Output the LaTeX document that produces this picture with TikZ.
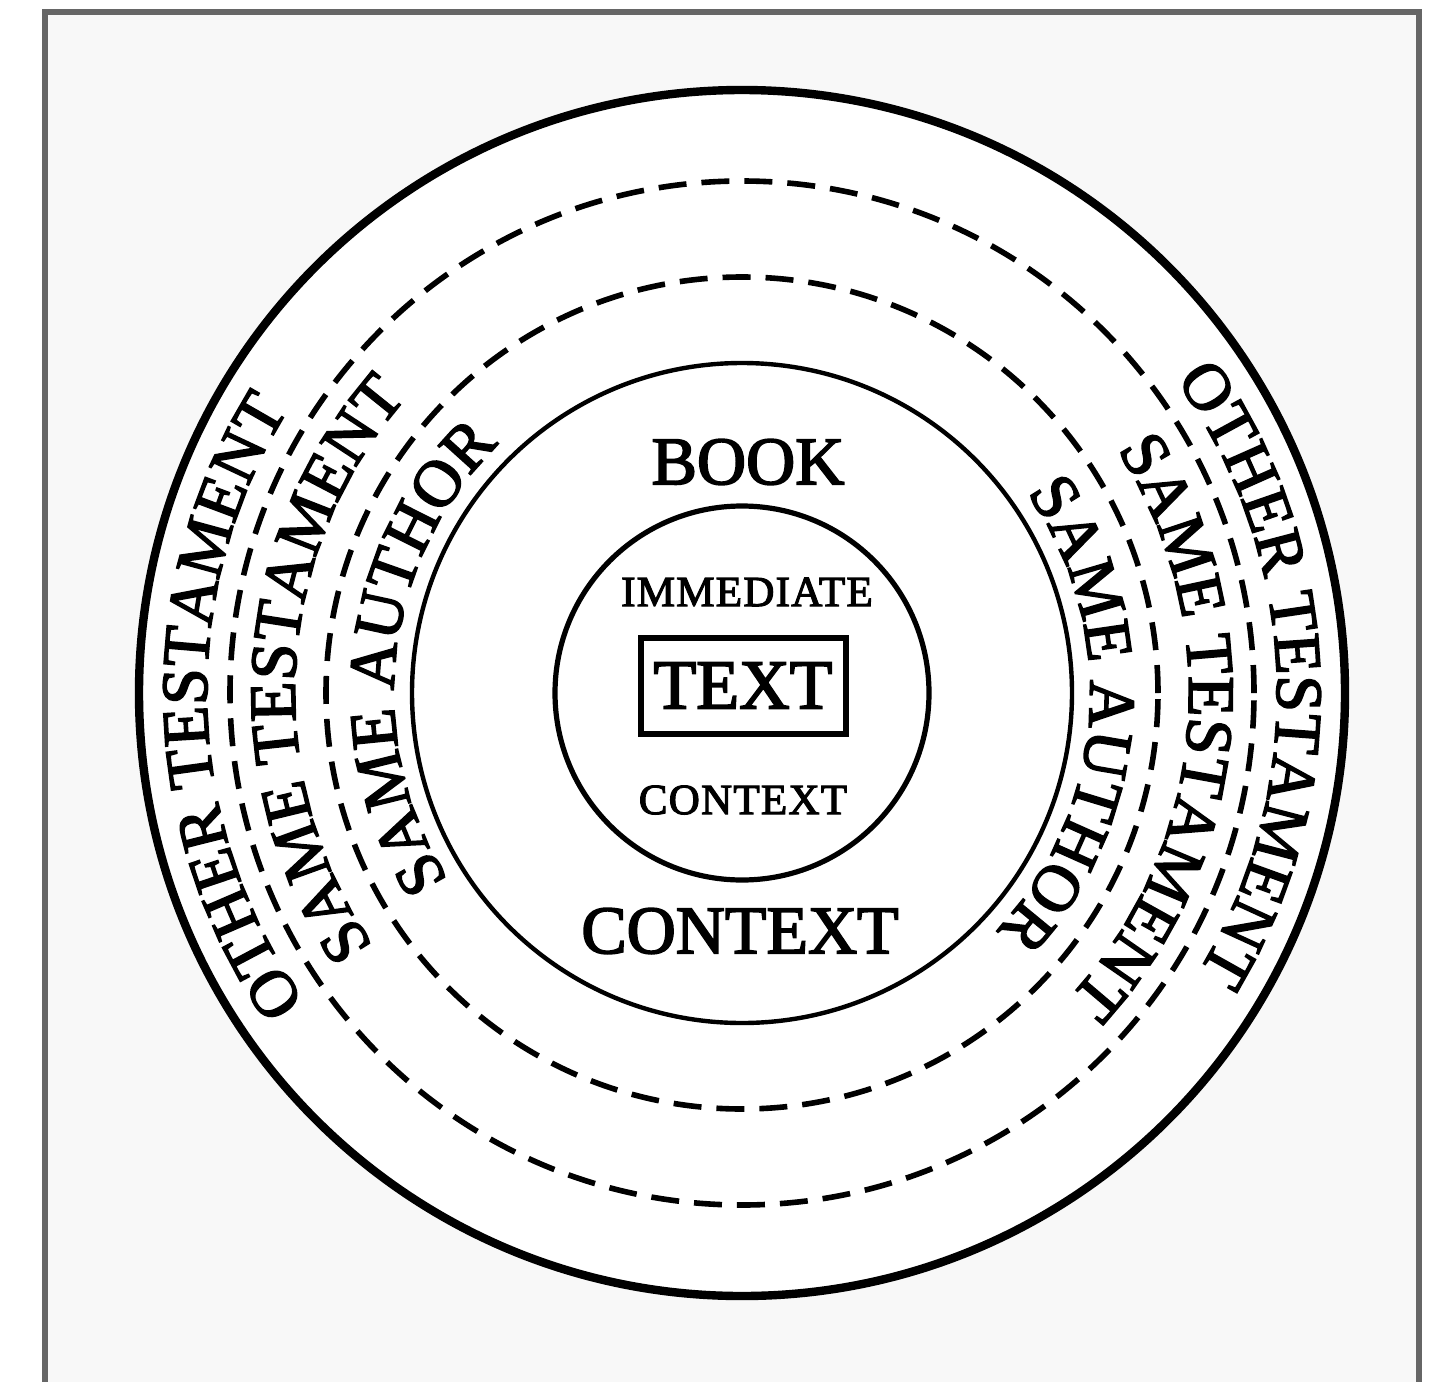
\documentclass[tikz,border=0pt]{standalone}
\usepackage{fontspec}
\setmainfont[FakeBold=2.6]{Liberation Serif}
\usetikzlibrary{decorations.text}
\definecolor{framegray}{HTML}{666666}
\definecolor{panelbg}{HTML}{F8F8F8}
\newcommand\curvefont{\fontsize{33pt}{33pt}\selectfont}
\begin{document}
\begin{tikzpicture}[x=0.5pt,y=0.5pt,
  dashring/.style={draw=black, line width=2.8pt, dash pattern=on 14pt off 7.5pt},
  lbl/.style={inner sep=0pt},
  bigfont/.style={font=\fontsize{34pt}{34pt}\selectfont},
  smallfont/.style={font=\fontsize{21.5pt}{21.5pt}\selectfont\addfontfeature{LetterSpace=3}},
  arctext/.style={decorate, decoration={text along path, text align=center, text={|\curvefont|#1}}}]
\useasboundingbox (0,0) rectangle (1450,-1381);
\clip (0,0) rectangle (1450,-1381);
\fill[white] (0,0) rectangle (1450,-1381);
\draw[framegray, line width=2.6pt, fill=panelbg] (45,-12) rectangle (1419,-1440);
\coordinate (C) at (742,-693);
% rings
\draw[line width=4.2pt, fill=white] (C) circle[radius=603];
\draw[dashring] (C) circle[radius=512];
\draw[dashring] (C) circle[radius=416];
\draw[line width=2.2pt] (C) circle[radius=330];
\draw[line width=2.6pt] (C) circle[radius=187];
% curved labels, left side
\path[arctext={OTHER TESTAMENT}] (C) ++(251.6:535) arc[start angle=251.6, end angle=111.6, radius=535];
\path[arctext={SAME TESTAMENT}] (C) ++(246.5:447) arc[start angle=246.5, end angle=106.5, radius=447];
\path[arctext={SAME AUTHOR}] (C) ++(243.4:348) arc[start angle=243.4, end angle=103.4, radius=348];
% curved labels, right side
\path[arctext={OTHER TESTAMENT}] (C) ++(72.2:535) arc[start angle=72.2, end angle=-67.8, radius=535];
\path[arctext={SAME TESTAMENT}] (C) ++(65:447) arc[start angle=65, end angle=-75, radius=447];
\path[arctext={SAME AUTHOR}] (C) ++(66:348) arc[start angle=66, end angle=-74, radius=348];
% centre labels
\node[lbl, bigfont] (book) at (748,-462) {BOOK};
\node[lbl, smallfont] (imm) at (747,-592) {IMMEDIATE};
\node[draw, line width=3pt, minimum width=102.5pt, minimum height=48pt, inner sep=0pt,
      font=\fontsize{35pt}{35pt}\selectfont] (txt) at (743,-685.5) {TEXT};
\node[lbl, smallfont] (ictx) at (743,-800) {CONTEXT};
\node[lbl, bigfont] (bctx) at (740,-931) {CONTEXT};
\end{tikzpicture}
\end{document}
